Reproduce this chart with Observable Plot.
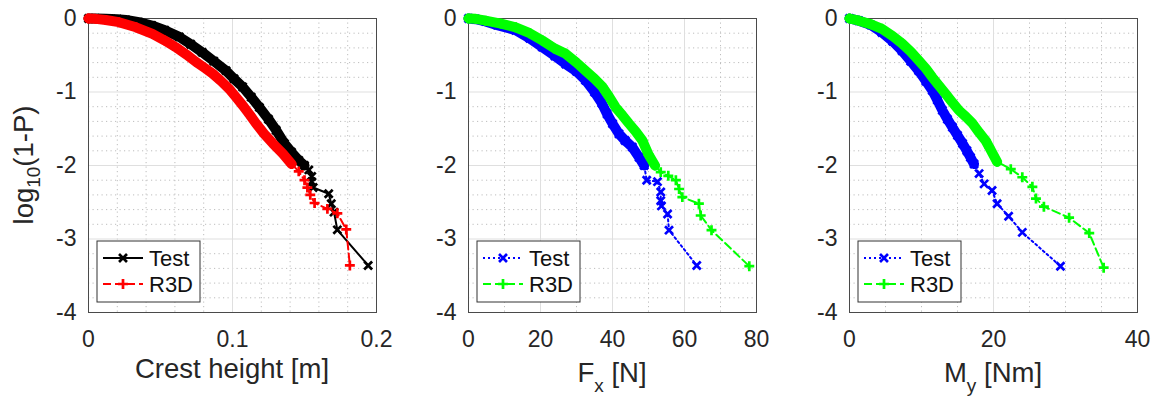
<!DOCTYPE html>
<html><head><meta charset="utf-8">
<script src="https://cdn.jsdelivr.net/npm/d3@7"></script>
<script src="https://cdn.jsdelivr.net/npm/@observablehq/plot@0.6"></script>
<style>
html,body{margin:0;padding:0;background:#fff;}
#wrap{position:relative;width:1155px;height:396px;overflow:hidden;}
#wrap svg{position:absolute;top:0;}
</style></head><body><div id="wrap"></div>
<script>
// ---------- data ----------
const yTicks = [0, -1, -2, -3, -4];

const crestTicks = [0, 0.1, 0.2];
const crestTestX = [0, 0.005, 0.012, 0.02, 0.026, 0.035, 0.044, 0.053, 0.063, 0.071, 0.079, 0.087, 0.0955, 0.101, 0.107, 0.113, 0.1187, 0.125, 0.1303, 0.136, 0.141, 0.146, 0.150, 0.153, 0.155, 0.155, 0.156, 0.1668, 0.1686, 0.1705, 0.1728, 0.1942];
const crestTestY = [0, 0, -0.005, -0.01, -0.02, -0.05, -0.095, -0.16, -0.25, -0.35, -0.46, -0.58, -0.71, -0.82, -0.93, -1.07, -1.21, -1.37, -1.52, -1.70, -1.82, -1.93, -2.0, -2.06, -2.15, -2.22, -2.30, -2.385, -2.52, -2.635, -2.875, -3.36];
const crestR3dX = [0, 0.005, 0.012, 0.0211, 0.033, 0.0444, 0.053, 0.0606, 0.068, 0.0746, 0.0805, 0.0862, 0.092, 0.0978, 0.102, 0.107, 0.112, 0.1164, 0.122, 0.128, 0.135, 0.141, 0.146, 0.150, 0.152, 0.154, 0.157, 0.1659, 0.1728, 0.179, 0.1815];
const crestR3dY = [0, -0.005, -0.02, -0.05, -0.12, -0.21, -0.30, -0.39, -0.49, -0.59, -0.67, -0.75, -0.85, -0.96, -1.06, -1.18, -1.31, -1.43, -1.57, -1.70, -1.84, -1.98, -2.08, -2.2, -2.3, -2.4, -2.51, -2.59, -2.65, -2.87, -3.36];

const fxTicks = [0, 20, 40, 60, 80];
const fxTestX = [0, 2, 4.7, 8, 13.1, 17, 20.5, 24, 27.0, 30, 32.5, 35, 37, 38.5, 40, 41.8, 43.5, 45.5, 47.4, 48.8, 49.5, 52.5, 53.4, 53.4, 53.6, 55.3, 55.7, 63.4];
const fxTestY = [0, -0.01, -0.04, -0.09, -0.16, -0.27, -0.39, -0.51, -0.62, -0.72, -0.84, -1.0, -1.15, -1.30, -1.43, -1.57, -1.66, -1.75, -1.89, -2.0, -2.2, -2.22, -2.36, -2.48, -2.55, -2.66, -2.88, -3.36];
const fxR3dX = [0, 2, 4.7, 9, 13.1, 17, 20.5, 24, 27.0, 30, 32.5, 35, 37.2, 39, 40.9, 42.8, 44.6, 46.5, 48.3, 50, 51.8, 53.4, 55.5, 57.6, 58.5, 59.4, 64.0, 64.5, 67.5, 78];
const fxR3dY = [0, -0.005, -0.03, -0.07, -0.12, -0.2, -0.30, -0.41, -0.48, -0.6, -0.71, -0.82, -0.93, -1.06, -1.21, -1.32, -1.43, -1.54, -1.66, -1.85, -2.0, -2.09, -2.14, -2.2, -2.32, -2.43, -2.52, -2.68, -2.88, -3.37];

const myTicks = [0, 20, 40];
const myTestX = [0, 1.3, 3, 4.5, 6, 7.3, 8.5, 9.6, 10.6, 11.5, 12.2, 12.9, 13.6, 14.3, 15.0, 15.7, 16.3, 16.8, 17.3, 18.0, 18.7, 19.8, 20.5, 22.1, 24.0, 29.3];
const myTestY = [0, -0.03, -0.09, -0.19, -0.31, -0.44, -0.58, -0.71, -0.85, -0.98, -1.11, -1.25, -1.37, -1.48, -1.59, -1.70, -1.80, -1.89, -1.98, -2.11, -2.25, -2.34, -2.52, -2.69, -2.91, -3.37];
const myR3dX = [0, 1.3, 3, 4.5, 6, 7.3, 8.5, 9.6, 10.6, 11.5, 12.4, 13.3, 14.2, 15.2, 16.2, 17.1, 18.0, 18.9, 19.4, 20.5, 22.4, 24.0, 25.4, 25.9, 27.0, 30.5, 33.3, 35.3];
const myR3dY = [0, -0.03, -0.08, -0.14, -0.24, -0.34, -0.45, -0.57, -0.68, -0.80, -0.91, -1.02, -1.13, -1.25, -1.34, -1.43, -1.55, -1.66, -1.75, -1.95, -2.05, -2.16, -2.29, -2.45, -2.56, -2.71, -2.92, -3.39];

const seriesNames = ["Test", "R3D"];

// ---------- drawing ----------
const FONT = '"Liberation Sans", Arial, Helvetica, sans-serif';
const TICK_FS = 23;
const wrap = document.getElementById("wrap");
const PW = 288, PH = 294, ML = 88, MT = 18;
const yMinor = d3.range(-40, 1, 2).map(v => v / 10).filter(v => !Number.isInteger(v));

function rows(xs, ys) { return xs.map((x, i) => ({x, y: ys[i]})); }

function panel(cfg) {
  const test = rows(cfg.testX, cfg.testY);
  const r3d = rows(cfg.r3dX, cfg.r3dY);
  const minorStep = cfg.minorStep;
  const xMinor = d3.range(0, Math.round(cfg.xDomain[1] / minorStep) + 1).map(i => +(i * minorStep).toFixed(6))
    .filter(v => !cfg.xTicks.some(t => Math.abs(t - v) < 1e-9));
  const plot = Plot.plot({
    width: 395, height: 396,
    marginLeft: ML, marginRight: 395 - ML - PW, marginTop: MT, marginBottom: 396 - MT - PH,
    style: {fontFamily: FONT, fontSize: TICK_FS + "px", color: "#262626", background: "transparent", overflow: "visible"},
    x: {domain: cfg.xDomain},
    y: {domain: [-4, 0]},
    marks: [
      Plot.ruleX(xMinor, {stroke: "#bdbdbd", strokeDasharray: "1.2,3.3", strokeWidth: 1}),
      Plot.ruleY(yMinor, {stroke: "#bdbdbd", strokeDasharray: "1.2,3.3", strokeWidth: 1}),
      Plot.ruleX(cfg.xTicks, {stroke: "#dfdfdf", strokeWidth: 1}),
      Plot.ruleY(yTicks, {stroke: "#dfdfdf", strokeWidth: 1}),
      Plot.frame({stroke: "#4a4a4a", strokeWidth: 1}),
      Plot.axisX({ticks: cfg.xTicks, tickSize: 0, tickPadding: 18.5, tickFormat: d => String(d), label: null, fontSize: TICK_FS}),
      Plot.axisY({ticks: yTicks, tickSize: 0, tickPadding: 12, tickFormat: d => String(d), label: null, fontSize: TICK_FS}),
      // Test
      Plot.line(test.filter(d => d.y > -2.02), {x: "x", y: "y", stroke: cfg.testColor, strokeWidth: 10, strokeLinecap: "round", strokeLinejoin: "round"}),
      Plot.line(test, {x: "x", y: "y", stroke: cfg.testColor, strokeWidth: 2, strokeDasharray: cfg.testDash}),
      Plot.dot(test, {x: "x", y: "y", symbol: "times", r: 3.7, stroke: cfg.testColor, strokeWidth: 2.7}),
      // R3D
      Plot.line(r3d.filter(d => d.y > -2.02), {x: "x", y: "y", stroke: cfg.r3dColor, strokeWidth: 10, strokeLinecap: "round", strokeLinejoin: "round"}),
      Plot.line(r3d, {x: "x", y: "y", stroke: cfg.r3dColor, strokeWidth: 2, strokeDasharray: "8,4"}),
      Plot.dot(r3d, {x: "x", y: "y", symbol: "plus", r: 3.3, stroke: cfg.r3dColor, strokeWidth: 2.7})
    ]
  });
  plot.style.left = cfg.left + "px";
  const svg = d3.select(plot);
  // Plot's own texts are only the tick labels here
  svg.selectAll("text").attr("font-size", TICK_FS).style("font-size", TICK_FS + "px");

  // x label with optional subscript
  const xl = svg.append("text").attr("x", ML + PW / 2).attr("y", cfg.xLabel[1] ? 382 : 378)
    .attr("text-anchor", "middle").style("font-size", "27.5px").attr("fill", "#262626").attr("font-family", FONT);
  xl.append("tspan").text(cfg.xLabel[0]);
  if (cfg.xLabel[1]) {
    xl.append("tspan").style("font-size", "19px").attr("dy", 10).text(cfg.xLabel[1]);
    xl.append("tspan").attr("dy", -10).text(cfg.xLabel[2]);
  }

  if (cfg.yLabel) {
    const yl = svg.append("text").attr("transform", `translate(33,${MT + PH / 2}) rotate(-90)`)
      .attr("text-anchor", "middle").style("font-size", "27.5px").attr("fill", "#262626").attr("font-family", FONT);
    yl.append("tspan").text("log");
    yl.append("tspan").style("font-size", "19px").attr("dy", 7).text("10");
    yl.append("tspan").attr("dy", -7).text("(1-P)");
  }

  // legend
  const lx = ML + 9, ly = 241;
  const lg = svg.append("g");
  lg.append("rect").attr("x", lx).attr("y", ly).attr("width", 103).attr("height", 61)
    .attr("fill", "white").attr("stroke", "#333").attr("stroke-width", 1);
  const entries = [
    {name: seriesNames[0], color: cfg.testColor, dash: cfg.testDash, sym: d3.symbolTimes, r: 3.7},
    {name: seriesNames[1], color: cfg.r3dColor, dash: "8,4", sym: d3.symbolPlus, r: 3.3}
  ];
  entries.forEach((e, i) => {
    const yy = ly + 17 + i * 26;
    lg.append("line").attr("x1", lx + 6).attr("x2", lx + 46).attr("y1", yy).attr("y2", yy)
      .attr("stroke", e.color).attr("stroke-width", 2).attr("stroke-dasharray", e.dash || null);
    lg.append("path").attr("d", d3.symbol(e.sym, Math.PI * e.r * e.r)())
      .attr("transform", `translate(${lx + 26},${yy})`).attr("fill", "none")
      .attr("stroke", e.color).attr("stroke-width", 2.7);
    lg.append("text").attr("x", lx + 52).attr("y", yy).attr("dy", "0.36em").attr("text-anchor", "start")
      .style("font-size", "22px").attr("fill", "#111").attr("font-family", FONT).text(e.name);
  });

  wrap.appendChild(plot);
}

panel({left: 0, xDomain: [0, 0.2], xTicks: crestTicks, minorStep: 0.02,
  testX: crestTestX, testY: crestTestY, r3dX: crestR3dX, r3dY: crestR3dY,
  testColor: "#000000", r3dColor: "#ff0000", testDash: null,
  xLabel: ["Crest height [m]"], yLabel: true});
panel({left: 380, xDomain: [0, 80], xTicks: fxTicks, minorStep: 10,
  testX: fxTestX, testY: fxTestY, r3dX: fxR3dX, r3dY: fxR3dY,
  testColor: "#0000ff", r3dColor: "#00ff00", testDash: "2,3",
  xLabel: ["F", "x", " [N]"], yLabel: false});
panel({left: 761, xDomain: [0, 40], xTicks: myTicks, minorStep: 5,
  testX: myTestX, testY: myTestY, r3dX: myR3dX, r3dY: myR3dY,
  testColor: "#0000ff", r3dColor: "#00ff00", testDash: "2,3",
  xLabel: ["M", "y", " [Nm]"], yLabel: false});
</script>
</body></html>
